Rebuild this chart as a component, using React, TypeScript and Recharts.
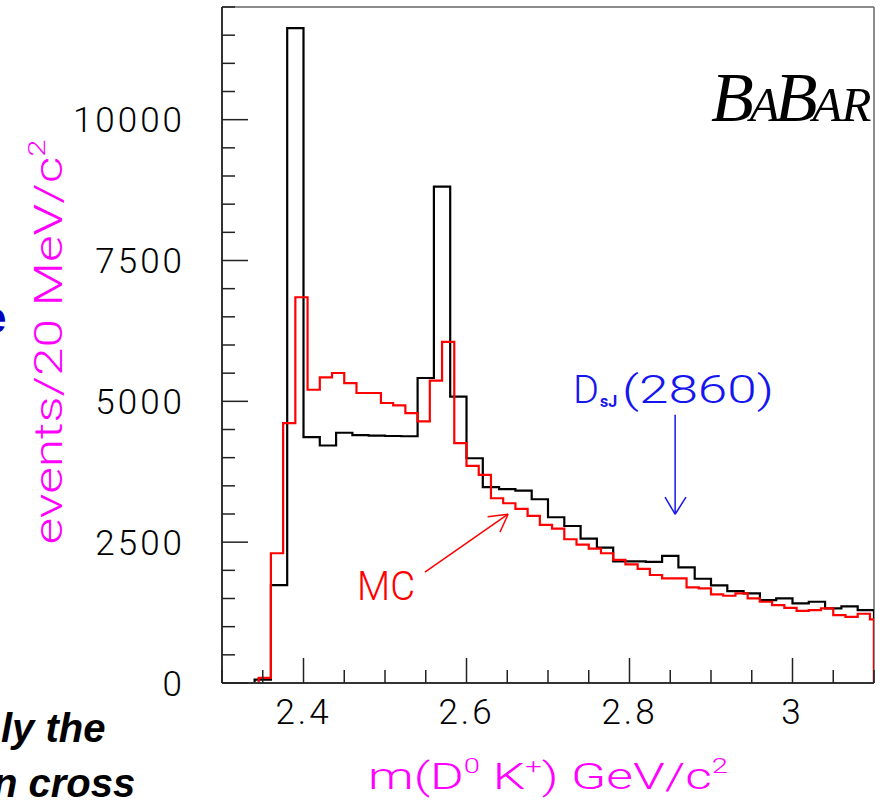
import React from 'react';
import { LineChart, Line, XAxis, YAxis, ReferenceLine } from 'recharts';

// ---- data ----
// data histogram, 20 MeV bins: left bin edges (GeV) and counts
const dataBinEdges = [
  2.30, 2.32, 2.34, 2.36, 2.38, 2.40, 2.42, 2.44, 2.46, 2.48,
  2.50, 2.52, 2.54, 2.56, 2.58, 2.60, 2.62, 2.64, 2.66, 2.68,
  2.70, 2.72, 2.74, 2.76, 2.78, 2.80, 2.82, 2.84, 2.86, 2.88,
  2.90, 2.92, 2.94, 2.96, 2.98, 3.00, 3.02, 3.04, 3.06, 3.08,
];
const dataCounts = [
  0, 0, 60, 1739, 11625, 4365, 4216, 4442, 4400, 4390,
  4385, 4380, 5414, 8811, 5082, 3990, 3476, 3440, 3416, 3262,
  2942, 2787, 2563, 2403, 2160, 2160, 2150, 2255, 2054, 1851,
  1734, 1632, 1591, 1472, 1502, 1414, 1442, 1325, 1360, 1294,
];
// MC histogram: left bin edges (GeV) and counts
const mcBinEdges = [
  2.30, 2.345, 2.36, 2.375, 2.39, 2.405, 2.42, 2.435, 2.45, 2.465,
  2.48, 2.495, 2.51, 2.525, 2.54, 2.555, 2.57, 2.585, 2.60, 2.615,
  2.63, 2.645, 2.66, 2.675, 2.69, 2.705, 2.72, 2.735, 2.75, 2.765,
  2.78, 2.795, 2.81, 2.825, 2.84, 2.855, 2.87, 2.885, 2.90, 2.915,
  2.93, 2.945, 2.96, 2.975, 2.99, 3.005, 3.02, 3.035, 3.05, 3.065,
  3.08, 3.095,
];
const mcCounts = [
  0, 91, 2303, 4614, 6848, 5206, 5425, 5503, 5325, 5148,
  5148, 4970, 4927, 4792, 4643, 5366, 6054, 4258, 3855, 3695,
  3280, 3191, 3090, 2966, 2806, 2740, 2552, 2456, 2385, 2303,
  2184, 2107, 2025, 1917, 1858, 1858, 1698, 1680, 1574, 1549,
  1590, 1502, 1442, 1383, 1335, 1282, 1294, 1325, 1205, 1175,
  1229, 1129,
];

const xDomain = [2.3, 3.1];
const yDomain = [0, 12000];
const xTicks = [
  2.3, 2.35, 2.4, 2.45, 2.5, 2.55, 2.6, 2.65, 2.7, 2.75, 2.8,
  2.85, 2.9, 2.95, 3.0, 3.05, 3.1,
];
const xMajorTicks = [2.4, 2.6, 2.8, 3.0];
const xTickLabels = ['2.4', '2.6', '2.8', '3'];
const yTicks = [
  0, 500, 1000, 1500, 2000, 2500, 3000, 3500, 4000, 4500, 5000, 5500,
  6000, 6500, 7000, 7500, 8000, 8500, 9000, 9500, 10000, 10500, 11000,
  11500, 12000,
];
const yMajorTicks = [0, 2500, 5000, 7500, 10000];
const yTickLabels = ['0', '2500', '5000', '7500', '10000'];

// annotation arrows, in data coordinates
const mcArrowLine = [{ x: 2.549, y: 1970 }, { x: 2.651, y: 2996 }];
const mcArrowHeadA = [{ x: 2.651, y: 2996 }, { x: 2.626, y: 2953 }];
const mcArrowHeadB = [{ x: 2.651, y: 2996 }, { x: 2.641, y: 2676 }];
const dsjArrowLine = [{ x: 2.856, y: 4762 }, { x: 2.856, y: 2996 }];
const dsjArrowHeadA = [{ x: 2.856, y: 2996 }, { x: 2.8436, y: 3298 }];
const dsjArrowHeadB = [{ x: 2.856, y: 2996 }, { x: 2.8693, y: 3298 }];

// ---- build step-series ----
const toSteps = (edges: number[], counts: number[]) => {
  const pts = edges.map((x, i) => ({ x, y: counts[i] }));
  pts.push({ x: xDomain[1], y: counts[counts.length - 1] });
  pts.push({ x: xDomain[1], y: 0 });
  return pts;
};
const dataSeries = toSteps(dataBinEdges, dataCounts);
const mcSeries = toSteps(mcBinEdges, mcCounts);

const TICK_FONT = "Roboto, 'Liberation Sans', Arial, sans-serif";
const Y_TICK_MARGIN = 37;
const X_TICK_MARGIN = 28;

const YTick = (props: any) => {
  const { x, y, payload } = props;
  const v = payload.value;
  const idx = yMajorTicks.indexOf(v);
  const axisX = x + Y_TICK_MARGIN;
  return (
    <g>
      <line x1={axisX} x2={axisX + (idx >= 0 ? 26 : 13)} y1={y} y2={y} stroke="#222" strokeWidth={1.5} />
      {idx >= 0 && (
        <text x={x} y={y} dy="0.36em" textAnchor="end" fontFamily={TICK_FONT} fontWeight={300}
          fontSize={35} letterSpacing={3} fill="#000">{yTickLabels[idx]}</text>
      )}
    </g>
  );
};

const XTick = (props: any) => {
  const { x, y, payload } = props;
  const v = payload.value;
  const idx = xMajorTicks.indexOf(v);
  const axisY = y - X_TICK_MARGIN;
  return (
    <g>
      <line x1={x} x2={x} y1={axisY} y2={axisY - (idx >= 0 ? 25 : 13)} stroke="#222" strokeWidth={1.5} />
      {idx >= 0 && (
        <text x={x} y={y} dy="0.36em" textAnchor="middle" fontFamily={TICK_FONT} fontWeight={300}
          fontSize={35} letterSpacing={3} fill="#000">{xTickLabels[idx]}</text>
      )}
    </g>
  );
};

export default function App() {
  return (
    <div style={{ position: 'absolute', left: 0, top: 0, width: 884, height: 806, overflow: 'hidden', background: '#fff' }}>
      <LineChart width={884} height={806} margin={{ top: 7, right: 10, left: 0, bottom: 0 }}>
        <XAxis type="number" dataKey="x" domain={xDomain} ticks={xTicks} interval={0}
          tick={<XTick />} tickLine={false} tickSize={0} tickMargin={X_TICK_MARGIN} height={123}
          axisLine={{ stroke: '#333', strokeWidth: 2 }} allowDataOverflow />
        <YAxis type="number" dataKey="y" domain={yDomain} ticks={yTicks} interval={0}
          tick={<YTick />} tickLine={false} tickSize={0} tickMargin={Y_TICK_MARGIN} width={222}
          axisLine={{ stroke: '#333', strokeWidth: 2 }} allowDataOverflow />
        <ReferenceLine x={xDomain[1]} stroke="#666" strokeWidth={1.5} />
        <ReferenceLine y={yDomain[1]} stroke="#666" strokeWidth={1.5} />
        <Line data={dataSeries} dataKey="y" type="stepAfter" stroke="#000" strokeWidth={2.2}
          dot={false} activeDot={false} isAnimationActive={false} />
        <Line data={mcSeries} dataKey="y" type="stepAfter" stroke="#ff0000" strokeWidth={2.2}
          dot={false} activeDot={false} isAnimationActive={false} />
        <ReferenceLine segment={mcArrowLine} stroke="#ff0000" strokeWidth={1.5} />
        <ReferenceLine segment={mcArrowHeadA} stroke="#ff0000" strokeWidth={1.5} />
        <ReferenceLine segment={mcArrowHeadB} stroke="#ff0000" strokeWidth={1.5} />
        <ReferenceLine segment={dsjArrowLine} stroke="#1515f0" strokeWidth={1.5} />
        <ReferenceLine segment={dsjArrowHeadA} stroke="#1515f0" strokeWidth={1.5} />
        <ReferenceLine segment={dsjArrowHeadB} stroke="#1515f0" strokeWidth={1.5} />
      </LineChart>
      <svg width={884} height={806} style={{ position: 'absolute', left: 0, top: 0, pointerEvents: 'none' }}>
        {/* y axis title */}
        <text transform="translate(62,342) rotate(-90)" textAnchor="middle" fill="#ff00ff"
          fontFamily={TICK_FONT} fontWeight={300} fontSize={38} textLength={405} lengthAdjust="spacingAndGlyphs">
          events/20 MeV/c<tspan dy={-17} fontSize={23}>2</tspan>
        </text>
        {/* x axis title */}
        <text x={368} y={789} fill="#ff00ff" fontFamily={TICK_FONT} fontWeight={300} fontSize={37}
          textLength={360} lengthAdjust="spacingAndGlyphs">
          m(D<tspan dy={-16} fontSize={21}>0</tspan><tspan dy={16} fontSize={37}> K</tspan>
          <tspan dy={-16} fontSize={21}>+</tspan><tspan dy={16} fontSize={37}>) GeV/c</tspan>
          <tspan dy={-16} fontSize={21}>2</tspan>
        </text>
        {/* MC label */}
        <text x={357} y={600} fill="#ff0000" fontFamily={TICK_FONT} fontWeight={300} fontSize={41}
          textLength={58} lengthAdjust="spacingAndGlyphs">MC</text>
        {/* DsJ(2860) label */}
        <text x={573} y={403} fill="#1515f0" fontFamily={TICK_FONT} fontWeight={300} fontSize={38}
          textLength={26} lengthAdjust="spacingAndGlyphs">D</text>
        <text x={600} y={407} fill="#1515f0" fontFamily={TICK_FONT} fontWeight={700} fontSize={16}>sJ</text>
        <text x={622} y={403} fill="#1515f0" fontFamily={TICK_FONT} fontWeight={300} fontSize={38}
          textLength={152} lengthAdjust="spacingAndGlyphs">(2860)</text>
        {/* BaBar logo */}
        <text x={711} y={121} fill="#000" fontFamily="'Liberation Serif', 'Times New Roman', serif" fontStyle="italic">
          <tspan fontSize={70}>B</tspan>
          <tspan fontSize={49} dx={-4}>A</tspan>
          <tspan fontSize={70} dx={-5}>B</tspan>
          <tspan fontSize={49} dx={-5}>A</tspan>
          <tspan fontSize={49} dx={-1}>R</tspan>
        </text>
        {/* fragments of surrounding slide text */}
        <text x={-18} y={333} fill="#0000c0" fontFamily="'Liberation Sans', Arial, sans-serif" fontWeight={700} fontSize={44}>e</text>
        <text x={1} y={742} fill="#000" fontFamily="'Liberation Sans', Arial, sans-serif" fontStyle="italic" fontWeight={700} fontSize={40}>ly the</text>
        <text x={-7} y={797} fill="#000" fontFamily="'Liberation Sans', Arial, sans-serif" fontStyle="italic" fontWeight={700} fontSize={40}>n cross</text>
      </svg>
    </div>
  );
}
